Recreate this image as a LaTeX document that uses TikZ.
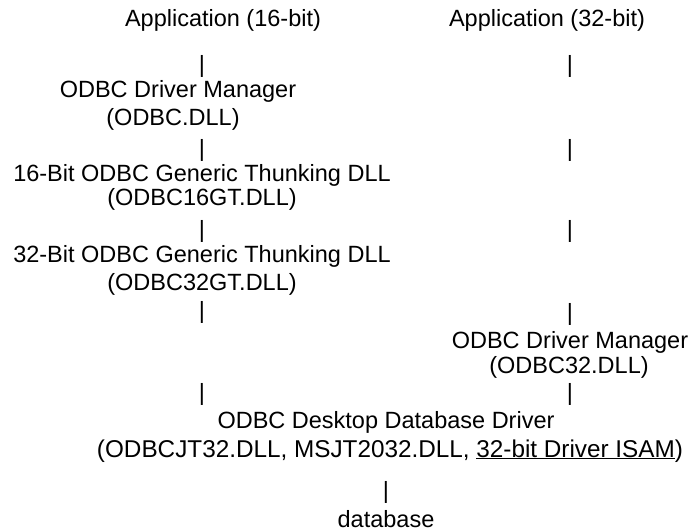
\documentclass[tikz,border=0pt]{standalone}
\usepackage{fontspec}
\setmainfont{Liberation Sans}
\usetikzlibrary{positioning}

\begin{document}
\begin{tikzpicture}[
    x = 1pt, y = -1pt, % one unit per pixel, y going down
    every node/.style = {inner sep = 0pt, font = \fontsize{23.5}{26}\selectfont},
    txt/.style = {anchor = base}, % text lines sit on their baseline
    bar/.style = {anchor = center} % the | between the layers
    ]
    \useasboundingbox (0,0) rectangle (693,532);

    % 16-bit side
    \node[txt] (app16) at (223,27) {Application (16-bit)};
    \node[bar] (l1) at (202,66) {|};
    \node[txt] (dm16) at (178,98) {ODBC Driver Manager};
    \node[txt] (dm16dll) at (173,126) {(ODBC.DLL)};
    \node[bar] (l2) at (202,150) {|};
    \node[txt] (gt16) at (202,181) {16-Bit ODBC Generic Thunking DLL};
    \node[txt] (gt16dll) at (202,205) {(ODBC16GT.DLL)};
    \node[bar] (l3) at (202,231) {|};
    \node[txt] (gt32) at (202,262) {32-Bit ODBC Generic Thunking DLL};
    \node[txt] (gt32dll) at (202,290) {(ODBC32GT.DLL)};
    \node[bar] (l4) at (202,312) {|};
    \node[bar] (l5) at (202,394) {|};

    % 32-bit side
    \node[txt] (app32) at (547,27) {Application (32-bit)};
    \node[bar] (r1) at (570,66) {|};
    \node[bar] (r2) at (570,150) {|};
    \node[bar] (r3) at (570,231) {|};
    \node[bar] (r4) at (570,314) {|};
    \node[txt] (dm32) at (570,348) {ODBC Driver Manager};
    \node[txt] (dm32dll) at (569,373) {(ODBC32.DLL)};
    \node[bar] (r5) at (570,394) {|};

    % shared driver
    \node[txt] (drv) at (386,428) {ODBC Desktop Database Driver};
    \node[txt, font = \fontsize{24.3}{26}\selectfont] (drvdll) at (390,457)
        {(ODBCJT32.DLL, MSJT2032.DLL, \underline{32-bit Driver ISAM})};
    \node[bar] (p6) at (386,492) {|};
    \node[txt] (db) at (386,527) {database};
\end{tikzpicture}
\end{document}
